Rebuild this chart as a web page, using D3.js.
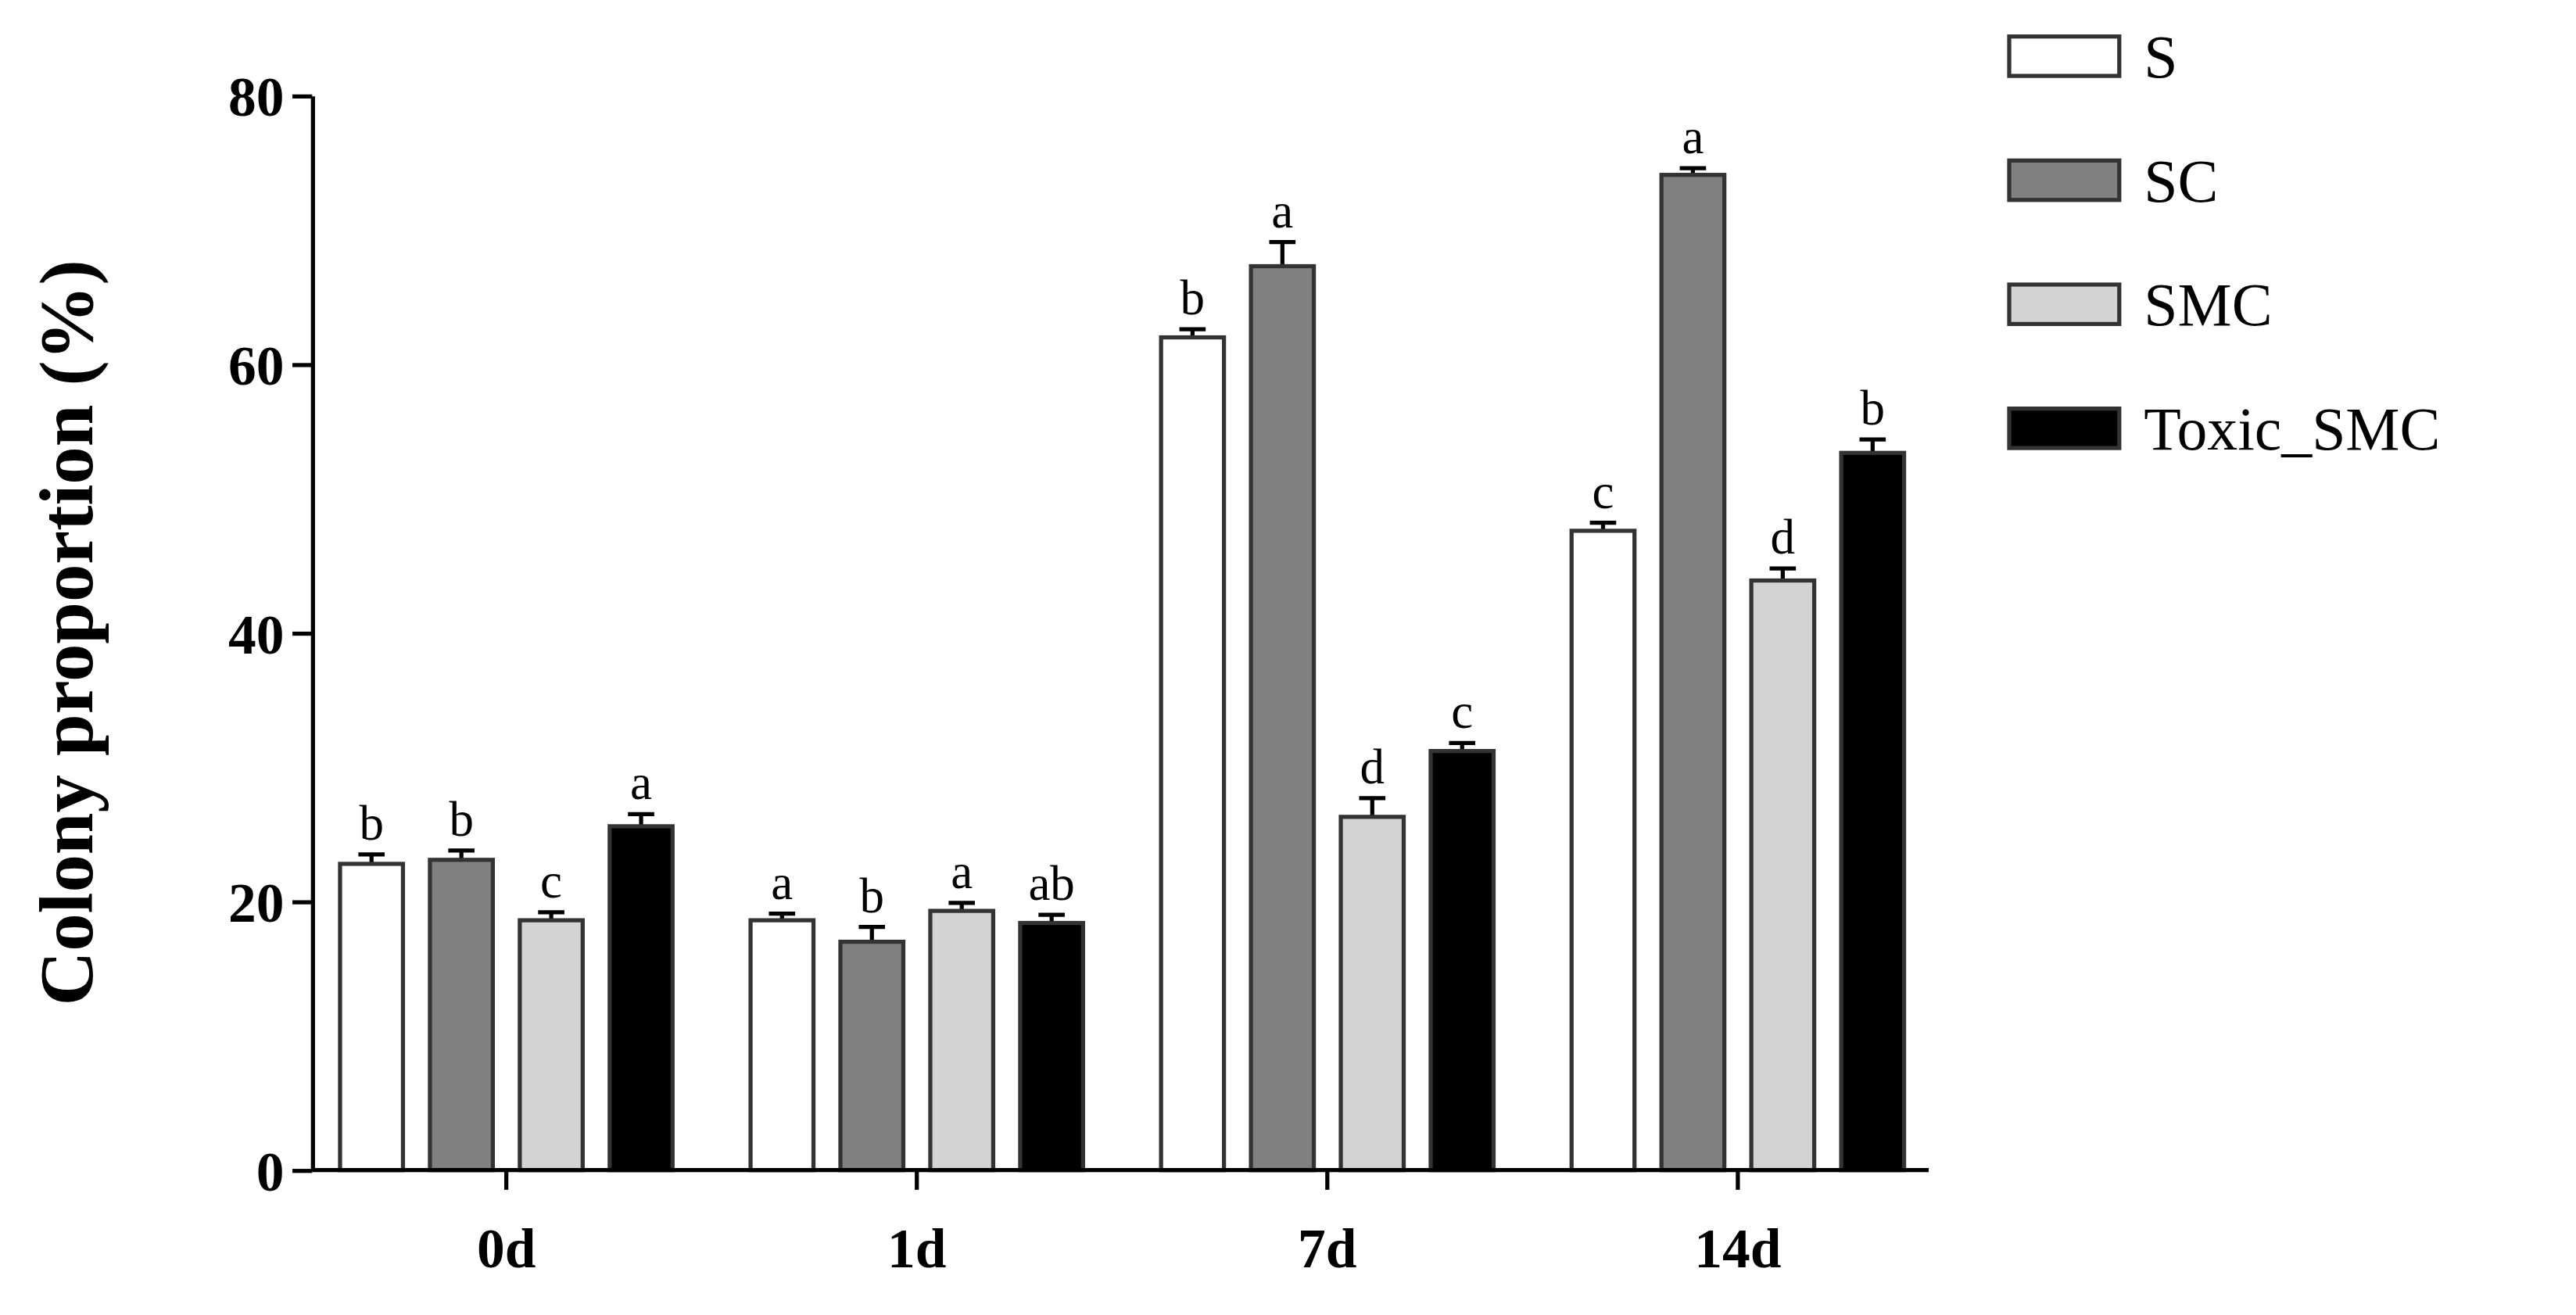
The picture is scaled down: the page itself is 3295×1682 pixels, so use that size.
<!DOCTYPE html>
<html><head><meta charset="utf-8">
<script src="https://cdn.jsdelivr.net/npm/d3@7"></script>
<style>body{margin:0;background:#fff}</style></head>
<body><svg id="c" width="3295" height="1682" viewBox="0 0 1568 800"></svg>
<script>
const days = ["0d","1d","7d","14d"];
const series = ["S","SC","SMC","Toxic_SMC"];
const colors = ["#ffffff","#808080","#d3d3d3","#000000"];
const values = [
  [22.8, 18.6, 62.0, 47.6],
  [23.1, 17.0, 67.3, 74.1],
  [18.6, 19.3, 26.3, 43.9],
  [25.6, 18.4, 31.2, 53.4]
];
const errors = [
  [0.7, 0.5, 0.6, 0.6],
  [0.7, 1.1, 1.8, 0.5],
  [0.6, 0.6, 1.4, 0.9],
  [0.9, 0.6, 0.6, 1.0]
];
const letters = [
  ["b","a","b","c"],
  ["b","b","a","a"],
  ["c","a","d","d"],
  ["a","ab","c","b"]
];
const yTicks = [0,20,40,60,80];

const svg = d3.select("#c");
const font = "'Liberation Serif','Times New Roman',serif";
const x0 = d3.scaleBand().domain(days).range([192,1174]).paddingInner(0.19).paddingOuter(0.06);
const x1 = d3.scaleBand().domain(series).range([0,x0.bandwidth()]).paddingInner(0.3);
const y = d3.scaleLinear().domain([0,80]).range([712,58]);

const g = svg.append("g");
series.forEach((s,si)=>{
  days.forEach((d,di)=>{
    const v = values[si][di], e = errors[si][di];
    const bx = x0(d)+x1(s), w = x1.bandwidth();
    const cx = bx + w/2;
    g.append("line").attr("x1",cx).attr("x2",cx).attr("y1",y(v)).attr("y2",y(v+e)).attr("stroke","#000").attr("stroke-width",2.5);
    g.append("line").attr("x1",cx-8).attr("x2",cx+8).attr("y1",y(v+e)).attr("y2",y(v+e)).attr("stroke","#000").attr("stroke-width",2.5);
    g.append("rect").attr("x",bx).attr("y",y(v)).attr("width",w).attr("height",y(0)-y(v))
      .attr("fill",colors[si]).attr("stroke","#333").attr("stroke-width",2.5);
    g.append("text").attr("x",cx).attr("y",y(v+e)-9).attr("text-anchor","middle")
      .attr("font-family",font).attr("font-size",30).text(letters[si][di]);
  });
});

const ya = svg.append("g").attr("transform","translate(190,0)")
  .call(d3.axisLeft(y).tickValues(yTicks).tickSize(12).tickSizeOuter(0));
ya.select(".domain").attr("stroke-width",2.5);
ya.selectAll(".tick line").attr("stroke-width",2.5);
ya.selectAll("text").attr("font-family",font).attr("font-size",34).attr("font-weight","bold").attr("dx",-2).attr("dy","0.35em");

const xa = svg.append("g").attr("transform","translate(0,712)")
  .call(d3.axisBottom(x0).tickSize(12).tickSizeOuter(0));
xa.select(".domain").attr("d","M190,0H1174").attr("stroke-width",2.5);
xa.selectAll(".tick line").attr("stroke-width",2.5);
xa.selectAll("text").attr("font-family",font).attr("font-size",34).attr("font-weight","bold").attr("dy","1.3em");

svg.append("text").attr("transform","translate(56,385) rotate(-90)").attr("text-anchor","middle")
  .attr("font-family",font).attr("font-size",46).attr("font-weight","bold").text("Colony proportion (%)");

const lg = svg.append("g");
series.forEach((s,i)=>{
  const yy = 34 + i*75.5;
  lg.append("rect").attr("x",1223).attr("y",yy-12).attr("width",67).attr("height",24)
    .attr("fill",colors[i]).attr("stroke","#333").attr("stroke-width",2.5);
  lg.append("text").attr("x",1305).attr("y",yy).attr("dy","0.35em")
    .attr("font-family",font).attr("font-size",37).text(s);
});
</script></body></html>
